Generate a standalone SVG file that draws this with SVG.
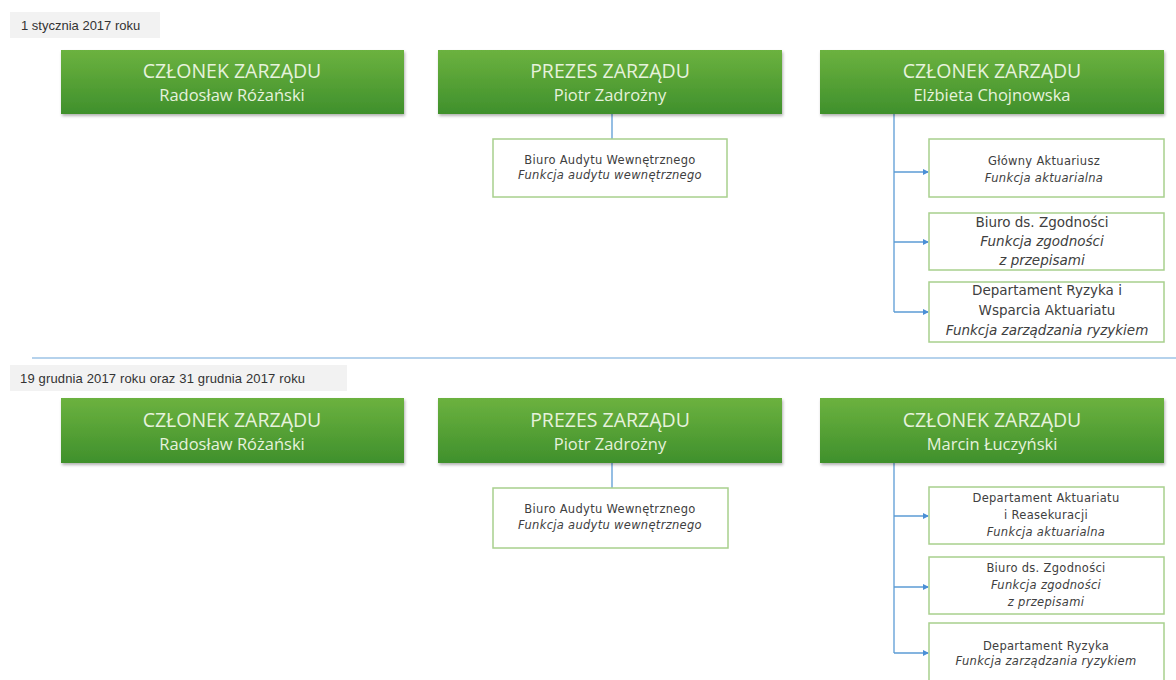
<svg xmlns="http://www.w3.org/2000/svg" width="1176" height="680" viewBox="0 0 1176 680">
<defs>
<linearGradient id="g" x1="0" y1="0" x2="0" y2="1">
<stop offset="0" stop-color="#6cb23f"/>
<stop offset="1" stop-color="#3f902c"/>
</linearGradient>
<filter id="sh" x="-5%" y="-10%" width="110%" height="130%">
<feDropShadow dx="1" dy="2" stdDeviation="1.5" flood-color="#000" flood-opacity="0.3"/>
</filter>
<marker id="ar" markerWidth="6" markerHeight="6" refX="5" refY="3" orient="auto" markerUnits="userSpaceOnUse">
<path d="M0,0 L6,3 L0,6 z" fill="#4a8fd6"/>
</marker>
<style>
.gb{fill:url(#g);filter:url(#sh)}
.gt{font-family:"Open Sans","Liberation Sans",sans-serif;fill:#e6f2dc;text-anchor:middle}
.t1{font-size:19.5px}
.t2{font-size:16.5px}
.wb{fill:#fff;stroke:#a8d08d;stroke-width:1.5}
.st{font-family:"DejaVu Sans","Liberation Sans",sans-serif;fill:#404040;text-anchor:middle;font-size:11.5px;letter-spacing:0.3px}
.sm{font-size:13.5px;letter-spacing:0}
.it{font-style:italic}
.lb{fill:#f2f2f2}
.lt{font-family:"Liberation Sans",sans-serif;font-size:13px;fill:#333}
.cn{fill:none;stroke:#5b9bd5;stroke-width:1.3}
</style>
</defs>
<rect width="1176" height="680" fill="#fff"/>

<g id="label1"><rect class="lb" x="10" y="12" width="150" height="26"/><text class="lt" x="21" y="30">1 stycznia 2017 roku</text></g>
<g id="label2"><rect class="lb" x="10" y="365" width="337" height="26"/><text class="lt" x="20" y="383" style="letter-spacing:0.15px">19 grudnia 2017 roku oraz 31 grudnia 2017 roku</text></g>

<g id="connectors">
<line x1="32" y1="358" x2="1176" y2="358" stroke="#9dc3e6" stroke-width="1.5"/>
<line class="cn" x1="612" y1="114" x2="612" y2="139"/>
<path class="cn" d="M894,114 V312"/>
<line class="cn" x1="894" y1="172" x2="928" y2="172" marker-end="url(#ar)"/>
<line class="cn" x1="894" y1="242" x2="928" y2="242" marker-end="url(#ar)"/>
<line class="cn" x1="894" y1="312" x2="928" y2="312" marker-end="url(#ar)"/>
<line class="cn" x1="612" y1="463" x2="612" y2="488"/>
<path class="cn" d="M894,463 V653"/>
<line class="cn" x1="894" y1="516" x2="928" y2="516" marker-end="url(#ar)"/>
<line class="cn" x1="894" y1="587" x2="928" y2="587" marker-end="url(#ar)"/>
<line class="cn" x1="894" y1="653" x2="928" y2="653" marker-end="url(#ar)"/>
</g>

<g id="top-czlonek-rozanski"><rect class="gb" x="61" y="50" width="343" height="64"/>
<text class="gt t1" x="232" y="78">CZŁONEK ZARZĄDU</text><text class="gt t2" x="232" y="101">Radosław Różański</text></g>
<g id="top-prezes"><rect class="gb" x="438" y="50" width="344" height="64"/>
<text class="gt t1" x="610" y="78">PREZES ZARZĄDU</text><text class="gt t2" x="610" y="101">Piotr Zadrożny</text></g>
<g id="top-czlonek-chojnowska"><rect class="gb" x="820" y="50" width="344" height="64"/>
<text class="gt t1" x="992" y="78">CZŁONEK ZARZĄDU</text><text class="gt t2" x="992" y="101">Elżbieta Chojnowska</text></g>

<g id="top-audyt"><rect class="wb" x="493" y="139" width="234" height="58"/>
<text class="st" x="610" y="164">Biuro Audytu Wewnętrznego</text><text class="st it" x="610" y="179">Funkcja audytu wewnętrznego</text></g>
<g id="top-aktuariusz"><rect class="wb" x="929" y="139" width="235" height="58"/>
<text class="st" x="1044" y="165">Główny Aktuariusz</text><text class="st it" x="1044" y="182">Funkcja aktuarialna</text></g>
<g id="top-zgodnosc"><rect class="wb" x="929" y="213" width="235" height="57"/>
<text class="st sm" x="1042" y="227">Biuro ds. Zgodności</text><text class="st sm it" x="1042" y="246">Funkcja zgodności</text><text class="st sm it" x="1042" y="265">z przepisami</text></g>
<g id="top-ryzyko"><rect class="wb" x="929" y="282" width="235" height="60"/>
<text class="st sm" x="1047" y="295">Departament Ryzyka i</text><text class="st sm" x="1047" y="315">Wsparcia Aktuariatu</text><text class="st sm it" x="1047" y="335">Funkcja zarządzania ryzykiem</text></g>

<g id="bot-czlonek-rozanski"><rect class="gb" x="61" y="398" width="343" height="65"/>
<text class="gt t1" x="232" y="427">CZŁONEK ZARZĄDU</text><text class="gt t2" x="232" y="450">Radosław Różański</text></g>
<g id="bot-prezes"><rect class="gb" x="438" y="398" width="344" height="65"/>
<text class="gt t1" x="610" y="427">PREZES ZARZĄDU</text><text class="gt t2" x="610" y="450">Piotr Zadrożny</text></g>
<g id="bot-czlonek-luczynski"><rect class="gb" x="820" y="398" width="344" height="65"/>
<text class="gt t1" x="992" y="427">CZŁONEK ZARZĄDU</text><text class="gt t2" x="992" y="450">Marcin Łuczyński</text></g>

<g id="bot-audyt"><rect class="wb" x="493" y="488" width="235" height="60"/>
<text class="st" x="610" y="513">Biuro Audytu Wewnętrznego</text><text class="st it" x="610" y="529">Funkcja audytu wewnętrznego</text></g>
<g id="bot-aktuariat"><rect class="wb" x="929" y="487" width="235" height="57"/>
<text class="st" x="1046" y="502">Departament Aktuariatu</text><text class="st" x="1046" y="519">i Reasekuracji</text><text class="st it" x="1046" y="536">Funkcja aktuarialna</text></g>
<g id="bot-zgodnosc"><rect class="wb" x="929" y="557" width="235" height="57"/>
<text class="st" x="1046" y="572">Biuro ds. Zgodności</text><text class="st it" x="1046" y="589">Funkcja zgodności</text><text class="st it" x="1046" y="606">z przepisami</text></g>
<g id="bot-ryzyko"><rect class="wb" x="929" y="623" width="235" height="70"/>
<text class="st" x="1046" y="650">Departament Ryzyka</text><text class="st it" x="1046" y="665">Funkcja zarządzania ryzykiem</text></g>
</svg>
